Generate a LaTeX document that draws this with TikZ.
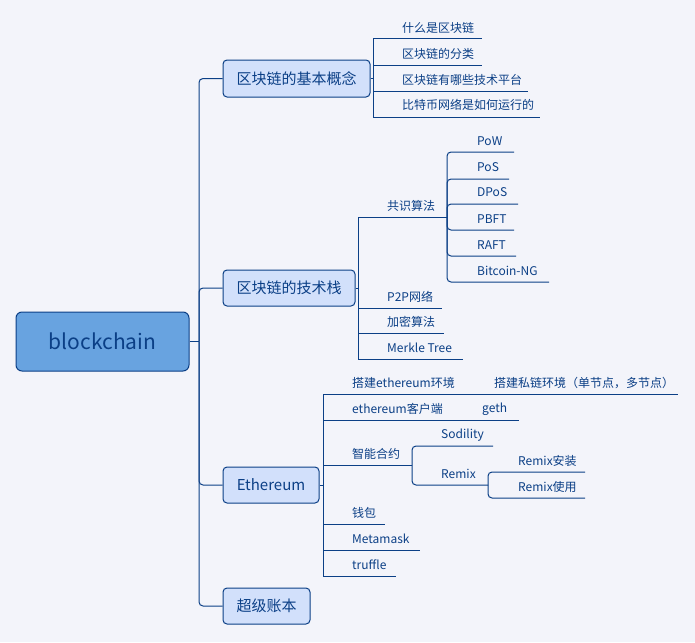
\documentclass[tikz,border=0pt]{standalone}
\usepackage{fontspec}
\setmainfont{Noto Sans CJK SC}
\definecolor{bg}{HTML}{F3F4FA}
\definecolor{ln}{HTML}{0B3F86}
\definecolor{rootfill}{HTML}{68A3E0}
\definecolor{lonefill}{HTML}{D2E0FB}
\begin{document}
\begin{tikzpicture}[x=1pt,y=-1pt,
  rootbox/.style={draw=ln,fill=rootfill,rounded corners=6pt,line width=1pt,text=ln,font=\fontsize{21}{24}\selectfont,inner sep=0pt},
  lonebox/.style={draw=ln,fill=lonefill,rounded corners=4pt,line width=1pt,text=ln,font=\fontsize{15}{18}\selectfont,inner sep=0pt},
  leaf/.style={anchor=west,text=ln,font=\fontsize{12}{14}\selectfont,inner sep=0pt},
  conn/.style={draw=ln,line width=1pt},
  rconn/.style={draw=ln,line width=1pt,rounded corners=4pt}]
\fill[bg] (0,0) rectangle (695,642);
\useasboundingbox (0,0) rectangle (695,642);
% root and level 1
\node[rootbox,minimum width=173pt,minimum height=59pt] (root) at (102.5,341.5) {blockchain};
\node[lonebox,minimum width=147pt,minimum height=37pt] (c1) at (296.5,78.5) {区块链的基本概念};
\node[lonebox,minimum width=132pt,minimum height=36pt] (c2) at (289,288) {区块链的技术栈};
\node[lonebox,minimum width=96pt,minimum height=36pt] (c3) at (271,485) {Ethereum};
\node[lonebox,minimum width=87pt,minimum height=36pt] (c4) at (266.5,606) {超级账本};
\coordinate (trunk) at (199,341.5);
\draw[conn] (root.east) -- (trunk);
\foreach \c in {c1,c2,c3,c4} \draw[rconn] (trunk) |- (\c.west);
% c1 children
\coordinate (b1) at (373,78.5);
\draw[conn] (c1.east) -- (b1);
\node[leaf] (a1) at (402,28) {什么是区块链};
\node[leaf] (a2) at (402,54) {区块链的分类};
\node[leaf] (a3) at (402,80) {区块链有哪些技术平台};
\node[leaf] (a4) at (402,105) {比特币网络是如何运行的};
\coordinate (a1e) at (482,39);
\coordinate (a2e) at (482,65);
\coordinate (a3e) at (528,91);
\coordinate (a4e) at (540,117);
\foreach \e in {a1e,a2e,a3e,a4e} \draw[conn] (b1) |- (\e);
% c2 children
\coordinate (b2) at (358,288);
\draw[conn] (c2.east) -- (b2);
\node[leaf] (g1) at (387,206) {共识算法};
\node[leaf] (g2) at (387,297) {P2P网络};
\node[leaf] (g3) at (387,322) {加密算法};
\node[leaf] (g4) at (387,348) {Merkle Tree};
\coordinate (g1e) at (447,217);
\coordinate (g2e) at (442,308);
\coordinate (g3e) at (444,333);
\coordinate (g4e) at (463,359);
\foreach \e in {g1e,g2e,g3e,g4e} \draw[conn] (b2) |- (\e);
% consensus children
\node[leaf] (p1) at (477,141) {PoW};
\node[leaf] (p2) at (477,167) {PoS};
\node[leaf] (p3) at (477,192) {DPoS};
\node[leaf] (p4) at (477,219) {PBFT};
\node[leaf] (p5) at (477,245) {RAFT};
\node[leaf] (p6) at (477,271) {Bitcoin-NG};
\coordinate (p1e) at (514,152);
\coordinate (p2e) at (509,179);
\coordinate (p3e) at (518,204);
\coordinate (p4e) at (514,230);
\coordinate (p5e) at (516,256);
\coordinate (p6e) at (549,282);
\foreach \e in {p1e,p2e,p3e,p4e,p5e,p6e} \draw[rconn] (g1e) |- (\e);
% c3 children
\coordinate (b3) at (323,485);
\draw[conn] (c3.east) -- (b3);
\node[leaf] (e1) at (352,383) {搭建ethereum环境};
\node[leaf] (e2) at (352,409) {ethereum客户端};
\node[leaf] (e3) at (352,454) {智能合约};
\node[leaf] (e4) at (352,513) {钱包};
\node[leaf] (e5) at (352,539) {Metamask};
\node[leaf] (e6) at (352,565) {truffle};
\coordinate (e1e) at (488,394);
\coordinate (e2e) at (474,420);
\coordinate (e3e) at (412,465);
\coordinate (e4e) at (385,524);
\coordinate (e5e) at (420,550);
\coordinate (e6e) at (396,576);
\foreach \e in {e1e,e2e,e3e,e4e,e5e,e6e} \draw[conn] (b3) |- (\e);
% grandchildren of Ethereum
\node[leaf] (f1) at (494,383) {搭建私链环境（单节点，多节点）};
\coordinate (f1e) at (678,394);
\draw[conn] (e1e) -- (f1e);
\node[leaf] (f2) at (482,409) {geth};
\coordinate (f2e) at (519,420);
\draw[conn] (e2e) -- (f2e);
\node[leaf] (s1) at (441,435) {Sodility};
\node[leaf] (s2) at (441,474) {Remix};
\coordinate (s1e) at (493,446);
\coordinate (s2e) at (488,485);
\foreach \e in {s1e,s2e} \draw[rconn] (e3e) |- (\e);
\node[leaf] (r1) at (518,461) {Remix安装};
\node[leaf] (r2) at (518,487) {Remix使用};
\coordinate (r1e) at (585,472);
\coordinate (r2e) at (585,498);
\foreach \e in {r1e,r2e} \draw[rconn] (s2e) |- (\e);
\end{tikzpicture}
\end{document}
